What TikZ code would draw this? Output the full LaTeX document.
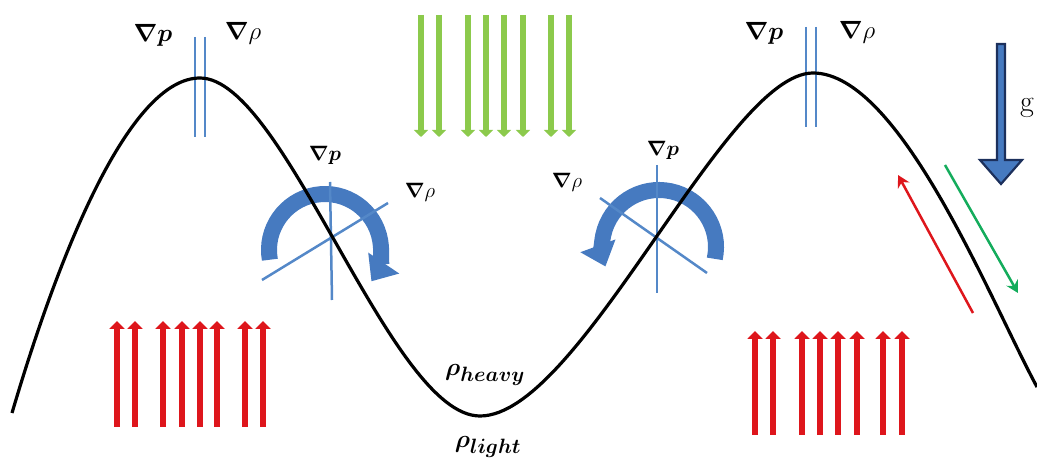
\documentclass[tikz,border=0pt]{standalone}
\usepackage{amsmath, amssymb}
\usepackage{tikz}
\usetikzlibrary{arrows.meta}
\usepackage{xcolor}
\definecolor{gradblue}{RGB}{84, 136, 200}
\definecolor{wheelblue}{RGB}{70, 122, 192}
\definecolor{buoyred}{RGB}{222, 22, 28}
\definecolor{sinkgreen}{RGB}{140, 202, 76}
\definecolor{gnavy}{RGB}{28, 48, 92}
\definecolor{slipgreen}{RGB}{20, 172, 92}

\begin{document}
\begin{tikzpicture}[x=1pt, y=-1pt,
    lbl/.style={inner sep=0pt, font=\Huge},
    wheel/.style={wheelblue, line width=16pt, -{Triangle[width=36pt, length=22pt]}},
    grad/.style={gradblue, line width=2.5pt},
    upflow/.style={buoyred, line width=5.5pt, -{Triangle[width=15pt, length=8pt]}},
    downflow/.style={sinkgreen, line width=5.5pt, -{Triangle[width=14pt, length=7pt]}},
    slide/.style={line width=2.5pt, -{Stealth[width=13pt, length=12pt, inset=4pt]}}]
  \useasboundingbox (0,0) rectangle (1037,462);
  % Rising and sinking fluid
  \foreach \x in {421,439,468,486,504,523,551,569}
    \draw[downflow] (\x,15) -- (\x,137);
  \foreach \x in {117,135,163,182,200,217,245,263}
    \draw[upflow] (\x,427) -- (\x,321);
  \foreach \x in {755,773,802,820,838,857,883,902}
    \draw[upflow] (\x,435) -- (\x,331);
  % Vorticity arrows on the flanks
  \draw[wheel] (325,250) ++(-190:56) arc[start angle=-190, end angle=34, radius=56];
  \draw[wheel] (659,247) ++(12:57) arc[start angle=12, end angle=-200, radius=57];
  % Gradient directions
  \draw[grad] (195,37) -- (195,137);
  \draw[grad] (205,37) -- (205,137);
  \draw[grad] (806,27) -- (806,127);
  \draw[grad] (816,27) -- (816,127);
  \draw[grad] (330,182) -- (332,300);
  \draw[grad] (262,280) -- (388,203);
  \draw[grad] (657,165) -- (657,293);
  \draw[grad] (600,198) -- (707,273);
  % Interface
  \draw[black, line width=3.2pt] (12,413) .. controls (60,250) and (130,78) .. (200,78)
    .. controls (285,78) and (390,416) .. (480,416)
    .. controls (580,416) and (725,73) .. (813,73)
    .. controls (900,73) and (990,300) .. (1037,387);
  % Gravity and slip along the slope
  \draw[fill=wheelblue, draw=gnavy, line width=2.2pt, line join=miter]
    (997,44) -- (1005,44) -- (1005,160) -- (1022,160) -- (1001,184)
    -- (980,160) -- (997,160) -- cycle;
  \draw[slide, buoyred] (973,313) -- (898,175);
  \draw[slide, slipgreen] (945,165) -- (1018,293);
  % Labels
  \node[lbl] (gpTopL) at (153,35) {$\boldsymbol{\nabla p}$};
  \node[lbl] (grTopL) at (243,33) {$\boldsymbol{\nabla}\rho$};
  \node[lbl] (gpTopR) at (764,33) {$\boldsymbol{\nabla p}$};
  \node[lbl] (grTopR) at (857,32) {$\boldsymbol{\nabla}\rho$};
  \node[lbl, font=\huge] (gpWheelL) at (325,155) {$\boldsymbol{\nabla p}$};
  \node[lbl, font=\huge] (grWheelL) at (420,192) {$\boldsymbol{\nabla}\rho$};
  \node[lbl, font=\huge] (gpWheelR) at (663,150) {$\boldsymbol{\nabla p}$};
  \node[lbl, font=\huge] (grWheelR) at (567,182) {$\boldsymbol{\nabla}\rho$};
  \node[lbl] (heavy) at (485,375) {$\boldsymbol{\rho_{heavy}}$};
  \node[lbl] (light) at (488,447) {$\boldsymbol{\rho_{light}}$};
  \node[lbl, font=\fontsize{30}{36}\selectfont] (grav) at (1027,108) {g};
\end{tikzpicture}
\end{document}
